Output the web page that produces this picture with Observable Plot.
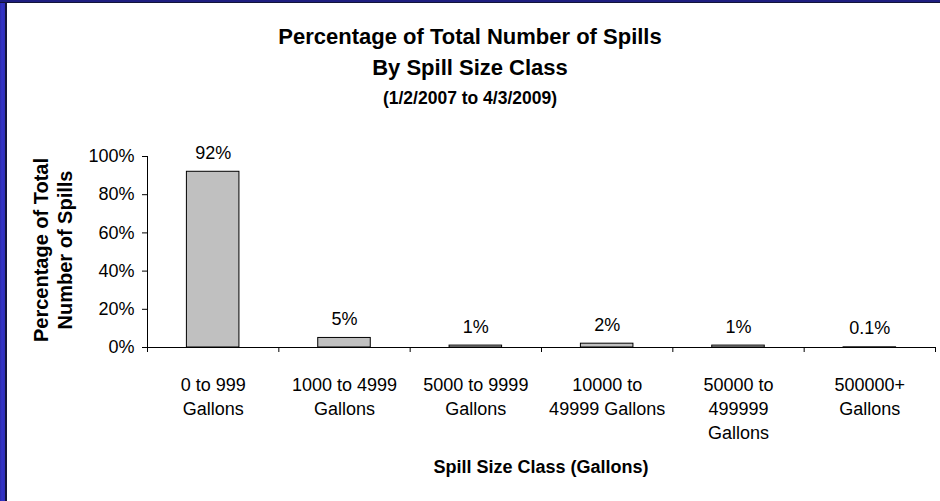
<!DOCTYPE html>
<html>
<head>
<meta charset="utf-8">
<script src="https://cdn.jsdelivr.net/npm/d3@7"></script>
<script src="https://cdn.jsdelivr.net/npm/@observablehq/plot@0.6"></script>
<style>
  html, body { margin: 0; padding: 0; background: #fff; }
  #wrap { position: relative; width: 940px; height: 501px; overflow: hidden; background: #fff;
          font-family: "Liberation Sans", Arial, Helvetica, sans-serif; color: #000; }
  #wrap svg { position: absolute; left: 0; top: 0; }
  .t { position: absolute; left: 0; width: 940px; text-align: center; font-weight: bold; white-space: nowrap; }
  #leftband { position: absolute; left: 0; top: 0; width: 7px; height: 501px;
              background: linear-gradient(to right, #2a2aa8 0px, #3434c8 2px, #2e2eb8 5px, #14143a 5px, #14143a 7px); }
  #topband { position: absolute; left: 0; top: 0; width: 940px; height: 3px;
             background: linear-gradient(to bottom, #1e1e80 0px, #1e1e80 2px, #14143a 2px, #14143a 3px); }
  #ytitle { position: absolute; left: 53px; top: 250px; transform: translate(-50%, -50%) rotate(-90deg);
            font-weight: bold; font-size: 20px; line-height: 24px; text-align: center; white-space: nowrap; }
</style>
</head>
<body>
<div id="wrap"></div>
<script>
const titleLines = ["Percentage of Total Number of Spills", "By Spill Size Class", "(1/2/2007 to 4/3/2009)"];
const categories = [
  "0 to 999\nGallons",
  "1000 to 4999\nGallons",
  "5000 to 9999\nGallons",
  "10000 to\n49999 Gallons",
  "50000 to\n499999\nGallons",
  "500000+\nGallons"
];
const values = [92, 5, 1, 2, 1, 0.1];
const valueLabels = ["92%", "5%", "1%", "2%", "1%", "0.1%"];
const yTicks = [0, 20, 40, 60, 80, 100];
const xTitle = "Spill Size Class (Gallons)";
const yTitle = "Percentage of Total\nNumber of Spills";

const idx = d3.range(categories.length);

const chart = Plot.plot({
  width: 940,
  height: 501,
  marginLeft: 147,
  marginRight: 5,
  marginTop: 156,
  marginBottom: 154,
  style: { fontFamily: '"Liberation Sans", Arial, Helvetica, sans-serif', fontSize: "18px", background: "transparent", color: "#000" },
  x: { type: "linear", domain: [0, categories.length], label: null },
  y: { domain: [0, 100], label: null },
  marks: [
    Plot.rectY(idx, { x1: i => i + 0.3, x2: i => i + 0.7, y1: 0, y2: i => values[i], fill: "#c0c0c0", stroke: "#000", strokeWidth: 1 }),
    Plot.ruleX([0], { stroke: "#000" }),
    Plot.ruleY([0], { stroke: "#000" }),
    Plot.axisY({ ticks: yTicks, tickFormat: d => d + "%", tickSize: 5, tickPadding: 8, fontSize: 18, label: null }),
    Plot.axisX({ ticks: d3.range(0, categories.length + 1), tickFormat: () => "", tickSize: 5, label: null }),
    Plot.text(idx, { x: i => i + 0.5, frameAnchor: "bottom", text: i => categories[i], lineAnchor: "top", dy: 27, lineHeight: 1.33, fontSize: 18 }),
    Plot.text(idx, { x: i => i + 0.5, y: i => values[i], text: i => valueLabels[i], lineAnchor: "bottom", dy: -13, fontSize: 18 })
  ]
});

const wrap = document.getElementById("wrap");
wrap.appendChild(chart);

function addLine(text, cy, size) {
  const d = document.createElement("div");
  d.className = "t";
  d.textContent = text;
  d.style.fontSize = size + "px";
  d.style.lineHeight = (size + 4) + "px";
  d.style.top = (cy - (size + 4) / 2) + "px";
  wrap.appendChild(d);
  return d;
}
addLine(titleLines[0], 37, 22);
addLine(titleLines[1], 68, 22);
addLine(titleLines[2], 99, 17.5);
const xt = addLine(xTitle, 467, 18);
xt.style.left = "147px";
xt.style.width = "788px";

const yt = document.createElement("div");
yt.id = "ytitle";
yt.innerHTML = yTitle.split("\n").join("<br>");
wrap.appendChild(yt);

const lb = document.createElement("div"); lb.id = "leftband"; wrap.appendChild(lb);
const tb = document.createElement("div"); tb.id = "topband"; wrap.appendChild(tb);
</script>
</body>
</html>
